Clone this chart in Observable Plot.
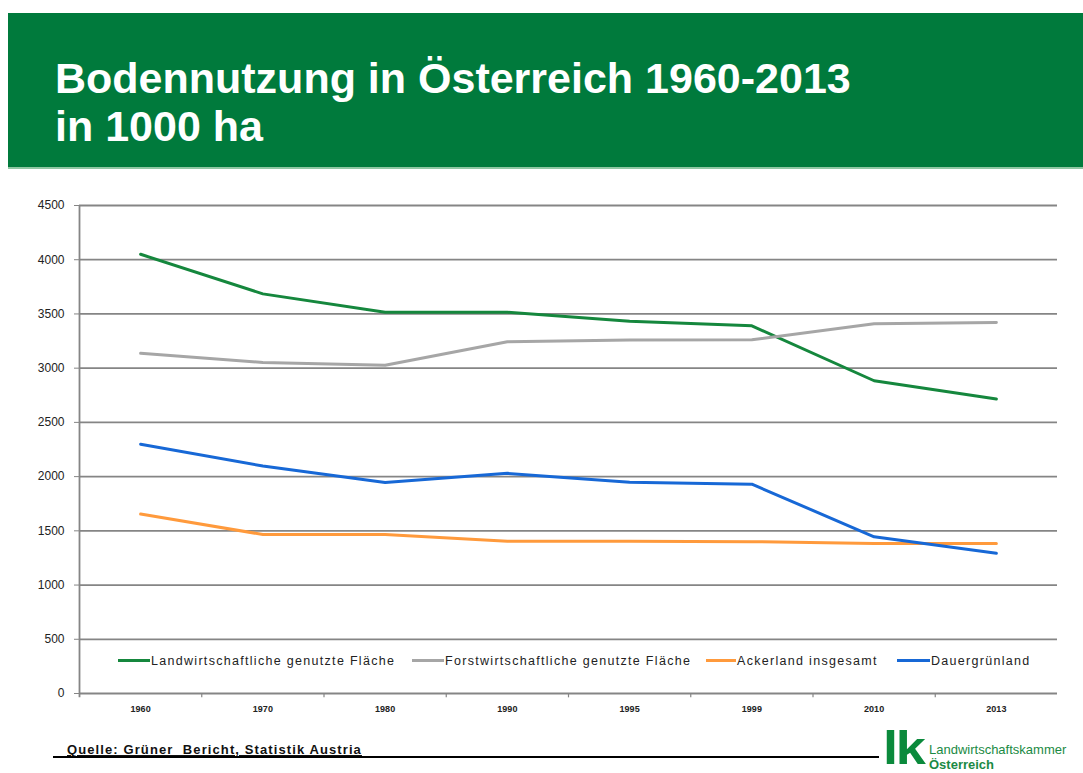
<!DOCTYPE html>
<html>
<head>
<meta charset="utf-8">
<script src="https://cdn.jsdelivr.net/npm/d3@7"></script>
<script src="https://cdn.jsdelivr.net/npm/@observablehq/plot@0.6"></script>
<style>
  html, body { margin: 0; padding: 0; background: #fff; }
  body { width: 1083px; height: 773px; position: relative; overflow: hidden; font-family: "Liberation Sans", Arial, sans-serif; }
  #banner { position: absolute; left: 8px; top: 13px; width: 1075px; height: 154px; background: #007a3c; border-bottom: 2px solid #8fc7a3; }
  #title { position: absolute; left: 55px; top: 54px; color: #fff; font-weight: bold; font-size: 43px; line-height: 48px; letter-spacing: 0px; margin: 0; }
  #chart { position: absolute; left: 0; top: 180px; }
  .lg { position: absolute; top: 653px; font-size: 12.5px; letter-spacing: 1.3px; color: #222; white-space: nowrap; line-height: 16px; }
  .sw { position: absolute; top: 659px; height: 3px; }
  #source { position: absolute; left: 67px; top: 742px; font-size: 13px; letter-spacing: 1.1px; font-weight: bold; text-decoration: underline; color: #111; white-space: nowrap; }
  #rule { position: absolute; left: 53px; top: 756px; width: 826px; height: 2px; background: #000; }
  #lk { position: absolute; left: 883px; top: 720px; font-size: 47px; font-weight: bold; color: #0b8a3c; letter-spacing: -2px; transform: scaleX(1.15); transform-origin: left top; }
  #lktext { position: absolute; left: 929px; top: 742px; color: #1a8a44; font-size: 13px; line-height: 15px; white-space: nowrap; }
</style>
</head>
<body>
<div id="banner"></div>
<div id="title">Bodennutzung in Österreich 1960-2013<br>in 1000 ha</div>
<div id="chart"></div>
<div id="source">Quelle: Grüner&nbsp; Bericht, Statistik Austria</div>
<div id="rule"></div>
<div id="lk">lk</div>
<div id="lktext">Landwirtschaftskammer<br><b>Österreich</b></div>
<script>
// ---- data ----
const years = ["1960", "1970", "1980", "1990", "1995", "1999", "2010", "2013"];
const landwirtschaft = [4050, 3685, 3515, 3515, 3432, 3390, 2884, 2716];
const forstwirtschaft = [3137, 3052, 3027, 3244, 3259, 3262, 3409, 3421];
const ackerland = [1655, 1466, 1466, 1405, 1405, 1400, 1384, 1384];
const dauergruenland = [2299, 2098, 1945, 2030, 1948, 1930, 1445, 1293];
const seriesNames = [
  "Landwirtschaftliche genutzte Fläche",
  "Forstwirtschaftliche genutzte Fläche",
  "Ackerland insgesamt",
  "Dauergrünland"
];
const seriesColors = ["#15873d", "#a6a6a6", "#ff9a3c", "#1768d6"];
const yTicks = [0, 500, 1000, 1500, 2000, 2500, 3000, 3500, 4000, 4500];

const seriesValues = [landwirtschaft, forstwirtschaft, ackerland, dauergruenland];
const rows = [];
seriesValues.forEach((vals, s) => vals.forEach((v, i) => rows.push({series: seriesNames[s], i, year: years[i], value: v})));
const boundaries = years.slice(0, -1).map((_, i) => i + 0.5);

const gridColor = "#858585";
const chart = Plot.plot({
  width: 1083,
  height: 540,
  marginLeft: 79,
  marginRight: 26,
  marginTop: 25,
  marginBottom: 27,
  style: {fontFamily: "Liberation Sans, Arial, sans-serif", background: "transparent"},
  x: {type: "linear", domain: [-0.5, years.length - 0.5], axis: null},
  y: {domain: [0, 4500], axis: null},
  color: {domain: seriesNames, range: seriesColors},
  marks: [
    Plot.ruleY(yTicks, {stroke: gridColor, strokeWidth: 1.8}),
    Plot.ruleX([-0.5], {y1: -40, y2: 4500, stroke: gridColor, strokeWidth: 1.8}),
    Plot.ruleX(boundaries, {y1: 0, y2: -40, stroke: gridColor, strokeWidth: 1.2}),
    Plot.axisY(yTicks, {label: null, tickSize: 5, tickPadding: 10, stroke: gridColor, fontSize: 12, fill: "#222", tickFormat: d => String(d)}),
    Plot.axisX(years.map((_, i) => i), {label: null, tickSize: 0, tickPadding: 12, fontSize: 9, fontWeight: "bold", fill: "#222", tickFormat: i => years[i]}),
    Plot.line(rows, {x: "i", y: "value", z: "series", stroke: "series", strokeWidth: 3, strokeLinejoin: "round"})
  ]
});
document.getElementById("chart").appendChild(chart);

// legend (HTML overlay inside the plot area)
const swatchX = [118, 412, 706, 897];
const textX = [151, 445, 737, 931];
seriesNames.forEach((name, k) => {
  const sw = document.createElement("div");
  sw.className = "sw";
  sw.style.left = swatchX[k] + "px";
  sw.style.width = (textX[k] - swatchX[k] - 1) + "px";
  sw.style.background = seriesColors[k];
  document.body.appendChild(sw);
  const t = document.createElement("div");
  t.className = "lg";
  t.style.left = textX[k] + "px";
  t.textContent = name;
  document.body.appendChild(t);
});
</script>
</body>
</html>
